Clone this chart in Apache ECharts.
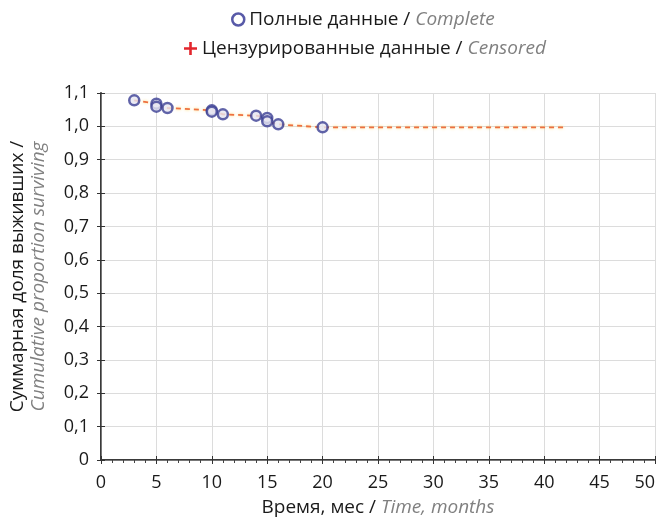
<!DOCTYPE html>
<html>
<head>
<meta charset="utf-8">
<script src="https://cdn.jsdelivr.net/npm/echarts@6/dist/echarts.min.js"></script>
<style>
  html, body { margin: 0; padding: 0; background: #fff; }
  #chart { width: 658px; height: 522px; }
</style>
</head>
<body>
<div id="chart"></div>
<script>
// Data
const completeTimes  = [3, 5, 5, 6, 10, 10, 11, 14, 15, 15, 16, 20];
const completeValues = [1.078, 1.068, 1.059, 1.055, 1.048, 1.044, 1.036, 1.032, 1.025, 1.015, 1.006, 0.997];
const curveTimes  = [3, 5, 5, 6, 10, 10, 11, 14, 15, 15, 16, 20, 42];
const curveValues = [1.078, 1.068, 1.059, 1.055, 1.048, 1.044, 1.036, 1.032, 1.025, 1.015, 1.006, 0.997, 0.997];
const xTickLabels = ['0', '5', '10', '15', '20', '25', '30', '35', '40', '45', '50'];
const yTickLabels = ['0', '0,1', '0,2', '0,3', '0,4', '0,5', '0,6', '0,7', '0,8', '0,9', '1,0', '1,1'];

const FONT = '"Open Sans", "Noto Sans", sans-serif';
const chart = echarts.init(document.getElementById('chart'));

const completeData = completeTimes.map((t, i) => [t, completeValues[i]]);
const curveData = curveTimes.map((t, i) => [t, curveValues[i]]);

const legendRich = {
  a: { fontFamily: FONT, fontSize: 19, color: '#1a1a1a' },
  b: { fontFamily: FONT, fontSize: 19, color: '#808080', fontStyle: 'italic' }
};
const xNameRich = {
  a: { fontFamily: FONT, fontSize: 19, color: '#1a1a1a' },
  b: { fontFamily: FONT, fontSize: 19, color: '#808080', fontStyle: 'italic' }
};
const yNameRich = {
  a: { fontFamily: FONT, fontSize: 19, color: '#1a1a1a', lineHeight: 21 },
  b: { fontFamily: FONT, fontSize: 19, color: '#808080', fontStyle: 'italic', lineHeight: 21 }
};

chart.setOption({
  animation: false,
  backgroundColor: '#fff',
  legend: [
    {
      top: 5, left: 226,
      itemWidth: 12, itemHeight: 12, itemGap: 10,
      data: [{ name: 'Complete', icon: 'circle',
        itemStyle: { color: '#fff', borderColor: '#2e3192', borderWidth: 2.5 } }],
      formatter: () => '{a|Полные данные / }{b|Complete}',
      textStyle: { rich: legendRich }
    },
    {
      top: 34, left: 179,
      itemWidth: 13, itemHeight: 13, itemGap: 10,
      data: [{ name: 'Censored', icon: 'path://M4,0H6V4H10V6H6V10H4V6H0V4H4Z',
        itemStyle: { color: '#e3262d', borderWidth: 0 } }],
      formatter: () => '{a|Цензурированные данные / }{b|Censored}',
      textStyle: { rich: legendRich }
    }
  ],
  grid: { left: 100, right: 2, top: 93, bottom: 62, containLabel: false },
  xAxis: [
    {
      type: 'value', min: 0, max: 50, interval: 5,
      axisLine: { show: true, lineStyle: { color: '#3a3a3a', width: 2 } },
      axisTick: { show: true, inside: true, length: 4, lineStyle: { color: '#333' } },
      splitLine: { show: true, lineStyle: { color: '#dcdcdc', width: 1 } },
      axisLabel: {
        margin: 14, fontFamily: FONT, fontSize: 18, color: '#1a1a1a',
        formatter: (v) => xTickLabels[Math.round(v / 5)],
        alignMaxLabel: 'right'
      },
      name: '{a|Время, мес / }{b|Time, months}',
      nameLocation: 'middle', nameGap: 38,
      nameTextStyle: { rich: xNameRich }
    },
    {
      type: 'value', min: 0, max: 50, interval: 5, position: 'top',
      axisLine: { show: true, lineStyle: { color: '#777', width: 1 } },
      axisTick: { show: true, inside: true, length: 4, lineStyle: { color: '#333' } },
      minorTick: { show: true, splitNumber: 5, length: 3, lineStyle: { color: '#444' } },
      splitLine: { show: false },
      axisLabel: { show: false }
    }
  ],
  yAxis: [
    {
      type: 'value', min: 0, max: 1.1, interval: 0.1,
      axisLine: { show: true, lineStyle: { color: '#3a3a3a', width: 2 } },
      axisTick: { show: true, inside: true, length: 4, lineStyle: { color: '#333' } },
      splitLine: { show: true, lineStyle: { color: '#dcdcdc', width: 1 } },
      axisLabel: {
        margin: 12, fontFamily: FONT, fontSize: 18, color: '#1a1a1a',
        formatter: (v) => yTickLabels[Math.round(v * 10)]
      },
      name: '{a|Суммарная доля выживших /}\n{b|Cumulative proportion surviving}',
      nameLocation: 'middle', nameRotate: 90, nameGap: 52,
      nameTextStyle: { rich: yNameRich }
    },
    {
      type: 'value', min: 0, max: 1.1, interval: 0.1, position: 'right',
      axisLine: { show: true, lineStyle: { color: '#777', width: 1 } },
      axisTick: { show: true, inside: true, length: 4, lineStyle: { color: '#333' } },
      splitLine: { show: false },
      axisLabel: { show: false }
    }
  ],
  series: [
    {
      name: 'Censored', type: 'line', data: curveData,
      xAxisIndex: 0, yAxisIndex: 0,
      showSymbol: false, symbol: 'none',
      lineStyle: { color: '#ee7040', width: 1.8, type: [5, 4],
        shadowColor: 'rgba(255,210,80,0.8)', shadowBlur: 3 },
      z: 2
    },
    {
      name: 'Complete', type: 'scatter', data: completeData,
      xAxisIndex: 0, yAxisIndex: 0,
      symbol: 'circle', symbolSize: 10,
      itemStyle: { color: '#e6e6f2', borderColor: '#3b3f93', borderWidth: 2.5 },
      z: 3
    }
  ]
});
</script>
</body>
</html>
